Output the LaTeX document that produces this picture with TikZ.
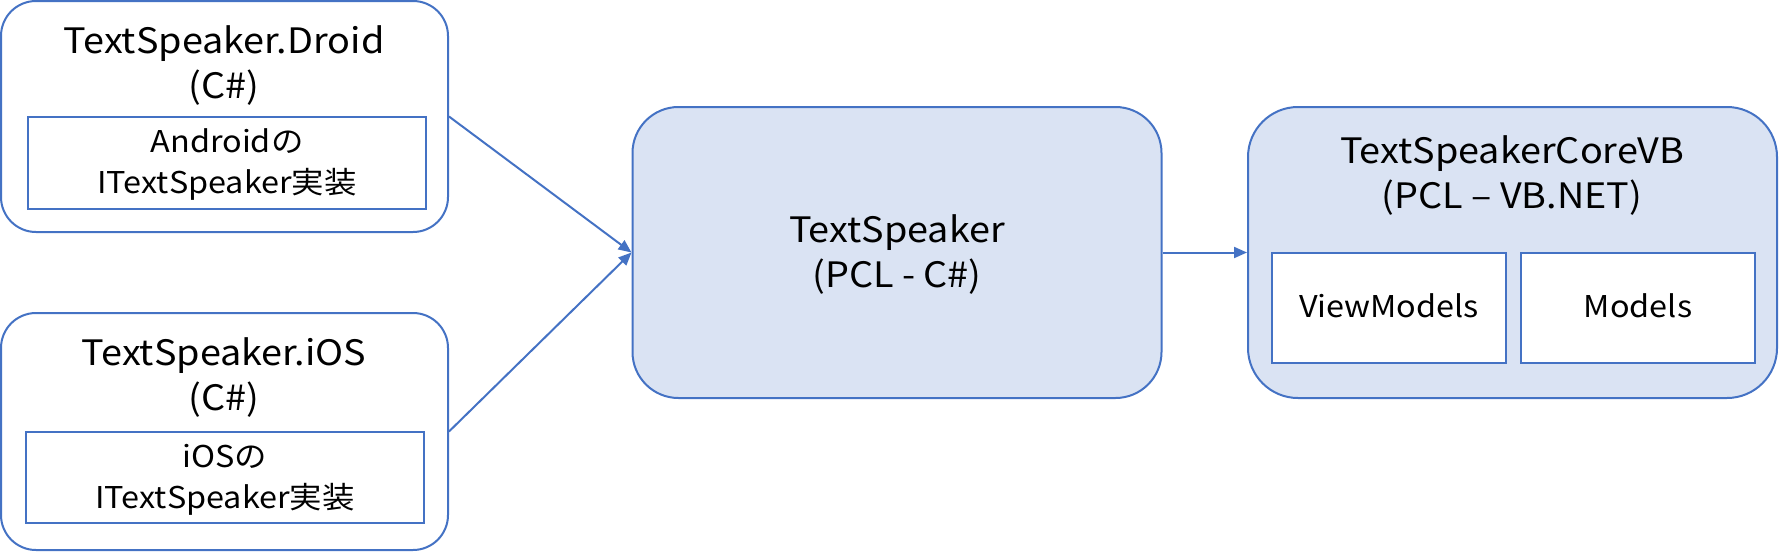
\documentclass[tikz,border=0pt]{standalone}
\usepackage{fontspec}
\setmainfont{Noto Sans CJK JP}[FakeStretch=1.08]
\usetikzlibrary{arrows.meta}
\definecolor{lineblue}{HTML}{4472C4}
\definecolor{fillblue}{HTML}{DAE3F3}
\begin{document}
\begin{tikzpicture}[x=1pt,y=-1pt,
  outerbox/.style={draw=lineblue, line width=2pt, fill=white, inner sep=0pt},
  filledbox/.style={draw=lineblue, line width=2pt, fill=fillblue, inner sep=0pt},
  innerbox/.style={draw=lineblue, line width=2pt, fill=white, inner sep=0pt},
  bigtext/.style={font=\fontsize{35}{45}\selectfont, anchor=base, inner sep=0pt},
  smalltext/.style={font=\fontsize{30}{41}\selectfont, anchor=base, inner sep=0pt},
  conn/.style={draw=lineblue, line width=2pt, -{Triangle[length=13pt,width=11pt]}}
]
\useasboundingbox (0,0) rectangle (1779,552);
% boxes
\node[outerbox, rounded corners=35pt, minimum width=447pt, minimum height=231pt] (droid) at (224.5,116.5) {};
\node[outerbox, rounded corners=35pt, minimum width=447pt, minimum height=237pt] (ios) at (224.5,431.5) {};
\node[filledbox, rounded corners=46pt, minimum width=529pt, minimum height=291pt] (core) at (897,252.5) {};
\node[filledbox, rounded corners=50pt, minimum width=529pt, minimum height=291pt] (vb) at (1512.5,252.5) {};
\node[innerbox, minimum width=398pt, minimum height=92pt] (droidimpl) at (227,163) {};
\node[innerbox, minimum width=398pt, minimum height=91pt] (iosimpl) at (225,477.5) {};
\node[innerbox, minimum width=234pt, minimum height=110pt] (vm) at (1389,308) {};
\node[innerbox, minimum width=234pt, minimum height=110pt] (models) at (1638,308) {};
% texts
\node[bigtext] (droidt1) at (224,53) {TextSpeaker.Droid};
\node[bigtext] (droidt2) at (224,98) {(C\#)};
\node[smalltext] (droidi1) at (227,152) {Androidの};
\node[smalltext] (droidi2) at (227,193) {ITextSpeaker実装};
\node[bigtext] (iost1) at (224,365) {TextSpeaker.iOS};
\node[bigtext] (iost2) at (224,410) {(C\#)};
\node[smalltext] (iosi1) at (225,467) {iOSの};
\node[smalltext] (iosi2) at (225,508) {ITextSpeaker実装};
\node[bigtext] (coret1) at (897,242) {TextSpeaker};
\node[bigtext] (coret2) at (897,287) {(PCL - C\#)};
\node[bigtext] (vbt1) at (1512,163) {TextSpeakerCoreVB};
\node[bigtext] (vbt2) at (1512,208) {(PCL – VB.NET)};
\node[smalltext] (vmt) at (1389,317) {ViewModels};
\node[smalltext] (modelst) at (1638,317) {Models};
% connectors
\draw[conn] (droid.east) -- (core.west);
\draw[conn] (ios.east) -- (core.west);
\draw[conn] (core.east) -- (vb.west);
\end{tikzpicture}
\end{document}
